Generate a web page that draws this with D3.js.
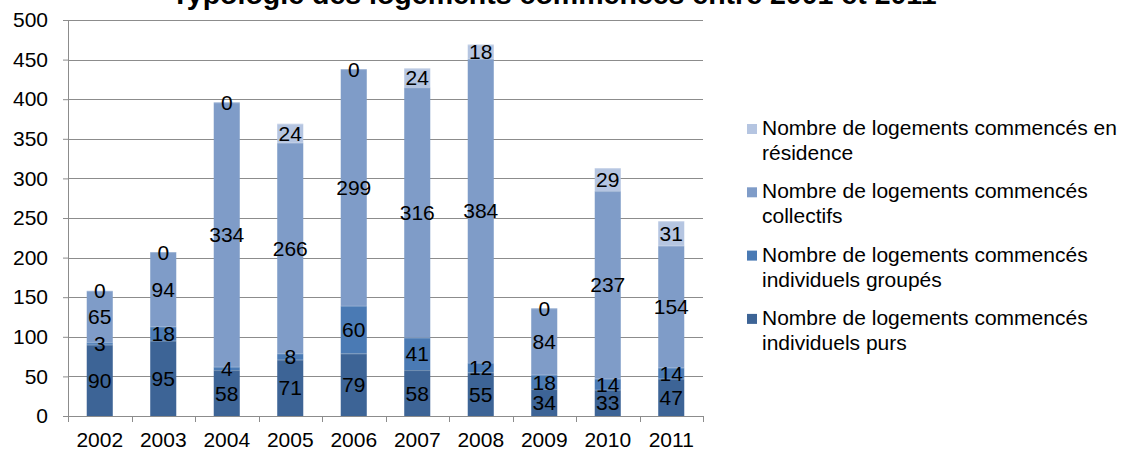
<!DOCTYPE html>
<html>
<head>
<meta charset="utf-8">
<script src="https://cdn.jsdelivr.net/npm/d3@7"></script>
<style>
  body { margin: 0; background: #fff; }
  svg { display: block; font-family: "Liberation Sans", Arial, sans-serif; }
</style>
</head>
<body>
<div id="wrapper"></div>
<script>
// housing starts by type, 2002-2011
const years = ["2002", "2003", "2004", "2005", "2006", "2007", "2008", "2009", "2010", "2011"]
const individuelsPurs = [90, 95, 58, 71, 79, 58, 55, 34, 33, 47]
const individuelsGroupes = [3, 18, 4, 8, 60, 41, 12, 18, 14, 14]
const collectifs = [65, 94, 334, 266, 299, 316, 384, 84, 237, 154]
const residence = [0, 0, 0, 24, 0, 24, 18, 0, 29, 31]

const seriesNames = [
  "Nombre de logements commencés individuels purs",
  "Nombre de logements commencés individuels groupés",
  "Nombre de logements commencés collectifs",
  "Nombre de logements commencés en résidence"
]
const yTicks = [0, 50, 100, 150, 200, 250, 300, 350, 400, 450, 500]

const colors = ["#3d6496", "#4a7ab4", "#7f9cc8", "#b5c5e1"]

const dimensions = {
  width: 1126,
  height: 450,
  margin: { top: 20, left: 68 },
  boundedWidth: 635,
  boundedHeight: 396
}

const table = years.map((year, i) => ({
  year,
  s0: individuelsPurs[i],
  s1: individuelsGroupes[i],
  s2: collectifs[i],
  s3: residence[i]
}))
const keys = ["s0", "s1", "s2", "s3"]
const stacked = d3.stack().keys(keys)(table)

const wrapper = d3.select("#wrapper")
  .append("svg")
  .attr("width", dimensions.width)
  .attr("height", dimensions.height)

const bounds = wrapper.append("g")
  .attr("transform", `translate(${dimensions.margin.left}, ${dimensions.margin.top})`)

const xScale = d3.scaleBand()
  .domain(years)
  .range([0, dimensions.boundedWidth])
  .paddingInner(0.59)
  .paddingOuter(0.295)

const yScale = d3.scaleLinear()
  .domain([0, 500])
  .range([dimensions.boundedHeight, 0])

// gridlines
bounds.append("g")
  .selectAll("line")
  .data(yTicks.filter(d => d > 0))
  .join("line")
  .attr("x1", 0)
  .attr("x2", dimensions.boundedWidth)
  .attr("y1", d => Math.round(yScale(d)) + 0.5)
  .attr("y2", d => Math.round(yScale(d)) + 0.5)
  .attr("stroke", "#8c8c8c")
  .attr("stroke-width", 1.2)

// bars
const layers = bounds.append("g")
  .selectAll("g")
  .data(stacked)
  .join("g")
  .attr("fill", (d, i) => colors[i])

layers.selectAll("rect")
  .data(d => d)
  .join("rect")
  .attr("x", d => xScale(d.data.year))
  .attr("y", d => yScale(d[1]))
  .attr("width", xScale.bandwidth())
  .attr("height", d => yScale(d[0]) - yScale(d[1]))

// thin light edge on top of each segment
layers.selectAll("line")
  .data(d => d.filter(s => s[1] > s[0]))
  .join("line")
  .attr("x1", d => xScale(d.data.year))
  .attr("x2", d => xScale(d.data.year) + xScale.bandwidth())
  .attr("y1", d => yScale(d[1]) + 0.5)
  .attr("y2", d => yScale(d[1]) + 0.5)
  .attr("stroke", "#ffffff")
  .attr("stroke-opacity", 0.25)

// value labels, centred in each segment
stacked.forEach(layer => {
  bounds.append("g")
    .selectAll("text")
    .data(layer)
    .join("text")
    .attr("x", d => xScale(d.data.year) + xScale.bandwidth() / 2)
    .attr("y", d => (yScale(d[0]) + yScale(d[1])) / 2)
    .attr("dy", "0.36em")
    .attr("text-anchor", "middle")
    .style("font-size", "21px")
    .style("fill", "#000")
    .text(d => d.data[layer.key])
})

// y axis
const yAxisGenerator = d3.axisLeft(yScale)
  .tickValues(yTicks)
  .tickSize(5)
  .tickPadding(15)

const yAxis = bounds.append("g")
  .call(yAxisGenerator)
yAxis.select(".domain").attr("stroke", "#8c8c8c").attr("d", `M0.5,0V${dimensions.boundedHeight}`)
yAxis.selectAll(".tick line").attr("stroke", "#8c8c8c")
yAxis.selectAll("text")
  .style("font-size", "21px")
  .style("font-family", "'Liberation Sans', Arial, sans-serif")
  .style("fill", "#000")

// x axis with ticks between categories
const xAxis = bounds.append("g")
  .attr("transform", `translate(0, ${dimensions.boundedHeight})`)

xAxis.append("line")
  .attr("x1", 0)
  .attr("x2", dimensions.boundedWidth)
  .attr("y1", 0.5)
  .attr("y2", 0.5)
  .attr("stroke", "#8c8c8c")
  .attr("stroke-width", 1.2)

const step = xScale.step()
xAxis.selectAll(".sep")
  .data(d3.range(years.length + 1))
  .join("line")
  .attr("class", "sep")
  .attr("x1", i => Math.round(i * step) + 0.5)
  .attr("x2", i => Math.round(i * step) + 0.5)
  .attr("y1", 0)
  .attr("y2", 6)
  .attr("stroke", "#8c8c8c")

xAxis.selectAll(".label")
  .data(years)
  .join("text")
  .attr("class", "label")
  .attr("x", d => xScale(d) + xScale.bandwidth() / 2)
  .attr("y", 31)
  .attr("text-anchor", "middle")
  .style("font-size", "21px")
  .text(d => d)

// title, clipped by the top edge
wrapper.append("text")
  .attr("x", 554)
  .attr("y", 4)
  .attr("text-anchor", "middle")
  .attr("textLength", 765)
  .attr("lengthAdjust", "spacingAndGlyphs")
  .style("font-size", "27px")
  .style("font-weight", "bold")
  .text("Typologie des logements commencés entre 2001 et 2011")

// legend, top series first
const legendLines = [
  ["Nombre de logements commencés en", "résidence"],
  ["Nombre de logements commencés", "collectifs"],
  ["Nombre de logements commencés", "individuels groupés"],
  ["Nombre de logements commencés", "individuels purs"]
]
const legendColors = colors.slice().reverse()

const legend = wrapper.append("g")
  .selectAll("g")
  .data(legendLines)
  .join("g")
  .attr("transform", (d, i) => `translate(747, ${135 + i * 63.3})`)

legend.append("rect")
  .attr("x", 0)
  .attr("y", -11)
  .attr("width", 10)
  .attr("height", 10)
  .attr("fill", (d, i) => legendColors[i])

legend.append("text")
  .attr("x", 15)
  .attr("y", 0)
  .style("font-size", "21px")
  .selectAll("tspan")
  .data(d => d)
  .join("tspan")
  .attr("x", 15)
  .attr("dy", (d, i) => i === 0 ? 0 : 25)
  .text(d => d)
</script>
</body>
</html>
